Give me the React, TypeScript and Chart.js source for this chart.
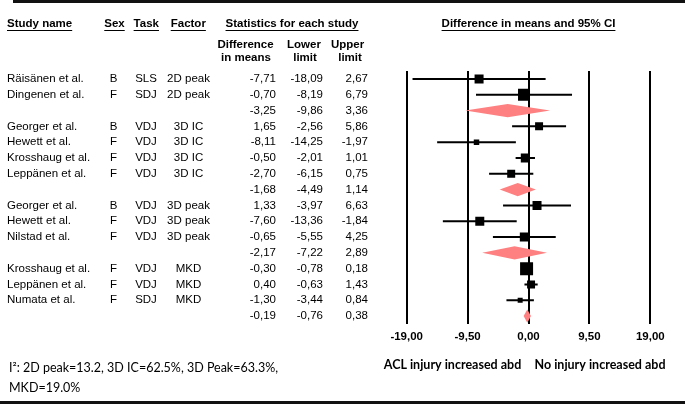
import React, { useEffect, useRef } from "react";
import { Chart, registerables } from "chart.js";

Chart.register(...registerables);

// ---------- data ----------
const studyNames = [
  "Räisänen et al.", "Dingenen et al.",
  "Georger et al.", "Hewett et al.", "Krosshaug et al.", "Leppänen et al.",
  "Georger et al.", "Hewett et al.", "Nilstad et al.",
  "Krosshaug et al.", "Leppänen et al.", "Numata et al.",
];
const sexes = ["B", "F", "B", "F", "F", "F", "B", "F", "F", "F", "F", "F"];
const tasks = ["SLS", "SDJ", "VDJ", "VDJ", "VDJ", "VDJ", "VDJ", "VDJ", "VDJ", "VDJ", "VDJ", "SDJ"];
const factors = ["2D peak", "2D peak", "3D IC", "3D IC", "3D IC", "3D IC", "3D peak", "3D peak", "3D peak", "MKD", "MKD", "MKD"];
const diffs = [-7.71, -0.70, 1.65, -8.11, -0.50, -2.70, 1.33, -7.60, -0.65, -0.30, 0.40, -1.30];
const lowers = [-18.09, -8.19, -2.56, -14.25, -2.01, -6.15, -3.97, -13.36, -5.55, -0.78, -0.63, -3.44];
const uppers = [2.67, 6.79, 5.86, -1.97, 1.01, 0.75, 6.63, -1.84, 4.25, 0.18, 1.43, 0.84];
// relative weights (%)
const weights = [8.4, 14.9, 6.6, 3.1, 8.4, 6.6, 8.4, 8.4, 8.4, 17.5, 6.6, 2.6];

const groups = ["2D peak", "3D IC", "3D peak", "MKD"];
const summaryDiffs = [-3.25, -1.68, -2.17, -0.19];
const summaryLowers = [-9.86, -4.49, -7.22, -0.76];
const summaryUppers = [3.36, 1.14, 2.89, 0.38];

const xTicks = [-19, -9.5, 0, 9.5, 19];
const heterogeneityLine1 = "I²: 2D peak=13.2, 3D IC=62.5%, 3D Peak=63.3%,";
const heterogeneityLine2 = "MKD=19.0%";
const leftLabel = "ACL injury increased abd";
const rightLabel = "No injury increased abd";

// ---------- derived rows ----------
const studyRows: number[] = [];
const summaryRows: number[] = [];
(() => {
  let r = 0;
  groups.forEach((g) => {
    factors.forEach((f, i) => {
      if (f === g) studyRows[i] = r++;
    });
    summaryRows.push(r++);
  });
})();
const totalRows = studyRows.length + summaryRows.length;

const fmt = (v: number) => v.toFixed(2).replace(".", ",");

const ARIAL = '"Liberation Sans", Arial, sans-serif';
const CAL = 'Lato, "Open Sans", sans-serif';
const DIAMOND_H = 0.42;
const PINK = "#FF8080";

const tablePlugin = {
  id: "forestTable",
  afterDraw(chart: any) {
    const ctx: CanvasRenderingContext2D = chart.ctx;
    const ys = chart.scales.y;
    const area = chart.chartArea;
    ctx.save();
    ctx.fillStyle = "#000";
    ctx.strokeStyle = "#000";
    ctx.textBaseline = "middle";

    const text = (t: string, x: number, y: number, align: CanvasTextAlign, font: string, underline = false) => {
      ctx.font = font;
      ctx.textAlign = align;
      ctx.fillText(t, x, y);
      if (underline) {
        const w = ctx.measureText(t).width;
        let x0 = x;
        if (align === "center") x0 = x - w / 2;
        else if (align === "right") x0 = x - w;
        ctx.fillRect(x0, y + 6, w, 1);
      }
    };
    const reg = `11.5px ${ARIAL}`;
    const bold = `bold 11.5px ${ARIAL}`;

    // frame bars
    ctx.fillStyle = "#111";
    ctx.fillRect(13, 0, 672, 3);
    ctx.fillRect(0, 401, 685, 3);
    ctx.fillStyle = "#000";

    // headers
    text("Study name", 7, 24, "left", bold, true);
    text("Sex", 114.5, 24, "center", bold, true);
    text("Task", 146.3, 24, "center", bold, true);
    text("Factor", 188.3, 24, "center", bold, true);
    text("Statistics for each study", 292, 24, "center", bold, true);
    text("Difference in means and 95% CI", (area.left + area.right) / 2, 24, "center", bold, true);
    text("Difference", 245.5, 45, "center", bold);
    text("in means", 246, 58, "center", bold);
    text("Lower", 304, 45, "center", bold);
    text("limit", 305, 58, "center", bold);
    text("Upper", 347.5, 45, "center", bold);
    text("limit", 350, 58, "center", bold);

    studyNames.forEach((n, i) => {
      const y = ys.getPixelForValue(studyRows[i]);
      text(n, 7, y, "left", reg);
      text(sexes[i], 113.5, y, "center", reg);
      text(tasks[i], 146, y, "center", reg);
      text(factors[i], 188.5, y, "center", reg);
      text(fmt(diffs[i]), 276, y, "right", reg);
      text(fmt(lowers[i]), 323, y, "right", reg);
      text(fmt(uppers[i]), 368, y, "right", reg);
    });
    summaryRows.forEach((r, i) => {
      const y = ys.getPixelForValue(r);
      text(fmt(summaryDiffs[i]), 276, y, "right", reg);
      text(fmt(summaryLowers[i]), 323, y, "right", reg);
      text(fmt(summaryUppers[i]), 368, y, "right", reg);
    });

    text(heterogeneityLine1, 9, 368, "left", `12.5px ${CAL}`);
    text(heterogeneityLine2, 9, 388, "left", `12.5px ${CAL}`);
    text(leftLabel, 452.5, 365, "center", `bold 12.5px ${CAL}`);
    text(rightLabel, 600, 365, "center", `bold 12.5px ${CAL}`);
    ctx.restore();
  },
};

export default function App() {
  const ref = useRef<HTMLCanvasElement>(null);

  useEffect(() => {
    const squares = {
      type: "scatter",
      data: diffs.map((d, i) => ({ x: d, y: studyRows[i] })),
      pointStyle: "rect",
      pointRadius: weights.map((w) => Math.sqrt(w * 9.65) / Math.SQRT2),
      pointHoverRadius: weights.map((w) => Math.sqrt(w * 9.65) / Math.SQRT2),
      backgroundColor: "#000",
      borderWidth: 0,
      showLine: false,
      order: 0,
    };
    const ciLines = diffs.map((_, i) => ({
      type: "scatter",
      data: [
        { x: lowers[i], y: studyRows[i] },
        { x: uppers[i], y: studyRows[i] },
      ],
      showLine: true,
      borderColor: "#000",
      borderWidth: 2,
      pointRadius: 0,
      fill: false,
      order: 1,
    }));
    const diamonds = summaryDiffs.map((d, i) => ({
      type: "scatter",
      data: [
        { x: summaryLowers[i], y: summaryRows[i] },
        { x: d, y: summaryRows[i] - DIAMOND_H },
        { x: summaryUppers[i], y: summaryRows[i] },
        { x: d, y: summaryRows[i] + DIAMOND_H },
        { x: summaryLowers[i], y: summaryRows[i] },
      ],
      showLine: true,
      borderWidth: 0,
      borderColor: PINK,
      backgroundColor: PINK,
      fill: "shape",
      pointRadius: 0,
      tension: 0,
      order: 2,
    }));

    const chart = new Chart(ref.current as HTMLCanvasElement, {
      type: "scatter",
      data: { datasets: [squares, ...ciLines, ...diamonds] as any },
      options: {
        animation: false,
        responsive: false,
        devicePixelRatio: 1,
        layout: { padding: { left: 406.7, right: 34.7, top: 71, bottom: 0 } },
        plugins: { legend: { display: false }, tooltip: { enabled: false } },
        events: [],
        scales: {
          x: {
            type: "linear",
            min: xTicks[0],
            max: xTicks[xTicks.length - 1],
            afterBuildTicks: (s: any) => {
              s.ticks = xTicks.map((v) => ({ value: v }));
            },
            afterFit: (s: any) => {
              s.height = 80;
            },
            ticks: {
              callback: (v: any) => fmt(Number(v)),
              font: { family: ARIAL, size: 11.5, weight: "bold" },
              color: "#000",
              padding: 6,
              maxRotation: 0,
              autoSkip: false,
            },
            grid: { color: "#000", lineWidth: 2, drawTicks: false },
            border: { display: false },
          },
          y: {
            type: "linear",
            min: -0.5,
            max: totalRows - 0.5,
            reverse: true,
            display: false,
          },
        },
      } as any,
      plugins: [tablePlugin],
    });
    return () => chart.destroy();
  }, []);

  return (
    <div style={{ position: "absolute", left: 0, top: 0, width: 685, height: 404, background: "#fff" }}>
      <canvas ref={ref} width={685} height={404} style={{ display: "block", width: 685, height: 404 }} />
    </div>
  );
}
